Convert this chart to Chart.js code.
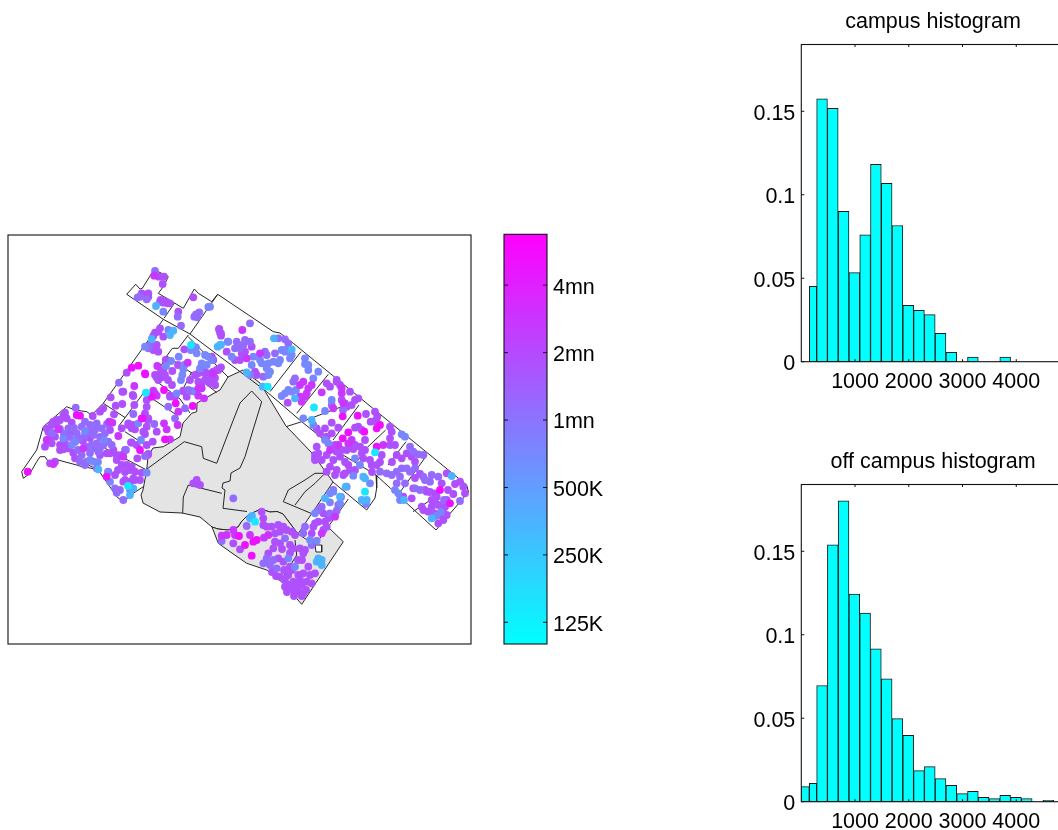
<!DOCTYPE html>
<html>
<head>
<meta charset="utf-8">
<script src="https://cdn.jsdelivr.net/npm/chart.js@4/dist/chart.umd.js"></script>
<style>
html,body{margin:0;padding:0;background:#fff;overflow:hidden;width:1058px;height:830px}
canvas{position:absolute;display:block}
</style>
</head>
<body>
<canvas id="map" style="left:0;top:225px" width="480" height="430"></canvas>
<canvas id="bar" style="left:490px;top:225px" width="130" height="430"></canvas>
<canvas id="h1" style="left:740px;top:0" width="386" height="390"></canvas>
<canvas id="h2" style="left:740px;top:440px" width="386" height="390"></canvas>
<script>
// ---------- histogram data ----------
const binCentres = [386,586,787,987,1188,1388,1589,1789,1990,2190,2391,2591,2792,2992,3193,3393,3594,3794,3995,4195,4396,4596,4797];
const campusNarrowX = [218];
const campusNarrowY = [0.0452];
const campusY = [0.1574,0.1518,0.09,0.0534,0.076,0.1182,0.1068,0.0816,0.0338,0.0308,0.0282,0.017,0.0056,0,0.0028,0,0,0.0028,0,0,0,0,0];
const offNarrowX = [75,218];
const offNarrowY = [0.009,0.011];
const offY = [0.0696,0.1538,0.1802,0.1244,0.113,0.0916,0.0736,0.0498,0.0398,0.0186,0.021,0.0138,0.0098,0.0048,0.0062,0.0026,0.0018,0.0038,0.0026,0.0018,0,0.0008,0];
const histXTicks = [1000,2000,3000,4000];
const histYTicks = [0,0.05,0.1,0.15];
const histYLabels = ['0','0.05','0.1','0.15'];

// ---------- colour bar ----------
const barRange = [100000,6750000];
const barTicks = [125000,250000,500000,1000000,2000000,4000000];
const barLabels = ['125K','250K','500K','1mn','2mn','4mn'];

// ---------- map: dots by price band ----------
const bandValues = {v150k:150000,v350k:350000,v650k:720000,v1mn:1150000,v15mn:1800000,v25mn:2800000,v6mn:5000000};
const v150k = [[191,345],[146,392.7],[267.7,386.7],[314,407.5],[375,452.3],[365,491.7],[255,521.7],[128,486]];
const v350k = [[156,306],[221,344.7],[217.7,346.7],[151.7,339],[173.3,330.7],[170,335],[98.3,469.3],[133.3,488.3],[246.7,372.3],[274,338.3],[262.7,386.7],[295,398.3],[311.7,420],[451.7,476],[404,500],[431.7,518.3],[345.7,486.7],[365,478.3],[363.3,476.7],[361.7,500],[366.7,500],[325,498.3],[250,518.3],[318.3,558.3],[321.7,560],[316.7,561.7],[321.7,565],[291.7,349.3],[130,495],[340,496.7],[220,345],[252,516]];
const v650k = [[163.3,311.7],[208.3,307],[168.3,330],[145,346.7],[190.7,350],[196,347.3],[178.7,356.7],[171,361],[166,366],[184.3,365],[183.3,369.3],[182.3,375],[181,380],[196.7,353.3],[205,355],[208.3,356.7],[211.7,360],[201.7,363.3],[206.7,365],[200,368.3],[195,391.7],[176.7,393.3],[210,306.7],[228.3,341.7],[231.7,356.7],[253.3,356.7],[260,360],[261.7,363.3],[268.3,363.3],[273.3,361.7],[280,360],[278.3,363.3],[281.7,350],[285,351.7],[291.7,355],[290,358.3],[251.7,365],[266.7,368.3],[270,371.7],[268.3,375],[250,375],[305,358.3],[308.3,365],[308.3,370],[305,364],[318.3,371.7],[291.7,391.7],[288.3,390],[285,393.3],[281.7,396],[313.3,378.3],[296,390],[325,411],[331.7,400],[303.3,418.3],[313.3,425],[325,440],[328.3,443.3],[355,458.3],[360,465],[395,490],[398.3,493.3],[401.7,434.3],[405,436.7],[353.3,475.7],[370,483.3],[366,504],[333.3,491.7],[330,493.3],[330,502.3],[340,503.3],[346.7,486.7],[315,513.3],[310,540],[316.7,540.7],[63.3,438.3],[71.7,445],[90,460],[93.3,461.7],[141,440],[138.3,423.3],[146.7,472.7],[110,481.7],[130,490],[288.3,558.3],[295,566.7],[285,350],[436,516],[441,512],[400,500],[85,431],[104,440],[75,442],[98,462],[108,472]];
const v1mn = [[155,271],[177.7,316.7],[181,325.7],[199.3,312.3],[196,314.3],[197.3,317.3],[194.3,316.7],[227.7,341.7],[137.7,297.3],[140,296.7],[146.7,299.3],[148.3,348.3],[150,345],[188.3,390],[119,382.7],[75.7,407.7],[68.3,428.3],[85,421.7],[90,425],[95,430],[81.7,426.7],[88.3,431.7],[96.7,423.3],[101.7,428.3],[105,433.3],[76.7,433.3],[76.7,440],[80,438.3],[85,435],[81.7,455],[86.7,461.7],[80,461.7],[85,465],[96.7,468.3],[93.3,435],[96.7,443.3],[95,448.3],[91.7,445],[100,448.3],[98.3,451.7],[103.3,445],[108.3,441.7],[111.7,445],[145,456],[133.3,414],[168.3,406.7],[175,418.3],[154.3,424],[185,408.3],[191.7,391],[250,323.3],[236.7,341.7],[238.3,345],[245,340],[250,341.7],[243.3,345],[240,348.3],[235,348.3],[278.3,338.3],[285,339.3],[288.3,343.3],[275,353.3],[265,351.7],[266.7,355],[263.3,376.7],[295,378.3],[293.3,381.7],[331.7,405],[410,446.7],[413.3,451.7],[418.3,454.3],[423.3,455],[380,471.7],[386.7,473.3],[391.7,475],[396.7,471.7],[400,476.7],[405,483.3],[396.7,483.3],[410,471.7],[415,468.3],[406.7,468.3],[401.7,468.3],[415,488.3],[420,490],[425,480],[430,481.7],[431.7,475],[423.3,476.7],[438.3,476.7],[460,501],[333.3,490],[338.3,505],[335,515],[336.7,510.7],[330,513.3],[321.7,506.7],[318.3,510],[285,538.3],[233.3,498.3],[221.7,541],[123.3,500],[115,488.3],[120,490],[116.7,492.7],[270,565],[276.7,568.3],[263.3,563.3],[266.7,558.3],[273.3,560],[303.3,533.3],[311.7,545],[305,526.7],[343,410],[246.7,526],[52,433],[60,429],[64,434],[70,437],[74,428],[100,437],[107,424],[87,447],[90,453],[78,450],[126,450],[444,500]];
const v15mn = [[159,276.7],[164,276.7],[162.7,284],[141.7,293.3],[145,295],[148.3,293.3],[148.3,296.7],[160.7,300],[163.3,302.7],[167.7,303.3],[170,303.3],[166,301.7],[160,301.7],[178.3,311.7],[193.3,297.3],[219.3,329],[221,333.3],[160,328.3],[155,332.7],[153.3,336],[158.3,331.7],[163.3,336.7],[156.7,345],[153.3,350],[158.3,351.7],[184.3,349.3],[165.7,360],[172.3,371],[163.3,370],[160,373.3],[156.7,376.7],[161.7,377.3],[158.3,380],[165,375],[155,375],[195,375],[198.3,373.3],[205,373.3],[210,373.3],[218.3,370],[221,367.3],[198.3,381.7],[201.7,383.3],[210,383.3],[215,385],[205,380],[183.3,390.7],[170,396.7],[126.7,372.7],[123.3,391.7],[110.7,397.3],[132.7,395],[150,396.7],[65,412.7],[63.3,416],[60,420],[56.7,420],[53.3,421.7],[51.7,425],[46.7,428.3],[48.3,431.7],[56.7,423.3],[92.7,416],[103.3,408.3],[100,411.7],[114,414.3],[71.7,422.7],[66.7,418.3],[110,430],[50,438.3],[45,446.7],[51.7,443.3],[55,436.7],[65,443.3],[68.3,448.3],[60,450],[63.3,449.3],[73.3,452.7],[75,458.3],[113.3,450],[106.7,453.3],[110,453.3],[116.7,455],[121.7,455],[131.7,442.7],[146.7,445],[136.7,445],[137.3,458.3],[147.7,455],[116.7,460],[125,450],[121.7,465],[126.7,465],[131.7,466.7],[130,470],[135,471.7],[125,480],[123.3,481.7],[130,481.7],[133.3,478.3],[140,480],[141.7,472.7],[108.3,471.7],[115,475],[50,463.3],[55,461.7],[122.3,391.7],[115.7,405.7],[122.3,404],[133.3,396],[134.3,405],[128.3,423.3],[121.7,428.3],[131.7,428.3],[135,429.3],[146.7,406.7],[146.7,400],[145,413.3],[148.3,420],[170,395.7],[175,396.7],[183.3,391],[186.7,396.7],[148.3,418.3],[156.7,431.7],[146.7,426.7],[143.3,431.7],[145,434],[152.7,441.7],[131,442.3],[148.3,454],[133.3,425],[128.3,425],[193.3,483.3],[196.7,480],[200,485],[219,329.3],[220,332.7],[221,335.7],[226.7,351.7],[251.7,346.7],[245,351.7],[241.7,353.3],[235,360],[240,360],[255,371.7],[256.7,375],[213.3,371.7],[216.7,370],[213.3,360],[211.7,356.7],[210,380],[215,385],[287.7,402.7],[330,386.7],[326.7,383.3],[336.7,380],[341.7,400],[345,403.3],[346.7,406.7],[351.7,405],[355,400],[358.3,398.3],[350,391.7],[340,385],[336.7,381.7],[366,414],[375,411.7],[377.3,416.7],[376,420],[377.3,423.3],[370.7,421.7],[331.7,422.7],[338.3,427.7],[358.3,426.7],[361.7,430],[355,427.7],[316.7,428.3],[325,428.3],[320,433.3],[331.7,433.3],[326.7,436.7],[335,445],[316.7,446.7],[315,455],[318.3,453.3],[315,460],[321.7,460],[326.7,455],[336.7,451.7],[341.7,450],[346.7,450],[355,445],[360,446.7],[353.3,449],[361.7,453.3],[365,450],[363.3,458.3],[370,460],[376.7,465],[371.7,465],[381.7,455],[390,438.3],[391.7,431.7],[390,426.7],[390,445],[395,445],[396.7,455],[401.7,458.3],[406.7,453.3],[411.7,456.7],[415,461.7],[411.7,498.3],[403.3,496.7],[446.7,473.3],[441.7,483.3],[435,493.3],[436.7,496.7],[431.7,500],[426.7,491.7],[413.3,488.3],[460,481.7],[463.3,486.7],[465,493.3],[453.3,494],[446.7,500],[445,506.7],[443.3,508.3],[438.3,505],[435,501.7],[431.7,506.7],[428.3,511.7],[423.3,510],[421.7,506.7],[438.3,523.3],[443.3,520],[440,515],[435,513.3],[446.7,515],[348.3,465],[350,470],[345,473.3],[336.7,470],[335,475],[330,466.7],[326.7,471.7],[343.3,475],[340,456.7],[333.3,460],[315,458.3],[341,497],[323.3,513.3],[328.3,518.3],[325,521.7],[315,523.3],[318.3,521.7],[313.3,526.7],[323.3,530],[326.7,526.7],[311.7,533.3],[261.7,511.7],[263.3,518.3],[263.3,525],[266.7,526.7],[233.3,543.3],[240,549.3],[271.7,526.7],[278.3,525],[283.3,526.7],[286.7,530],[275,533.3],[280,531.7],[291.7,531.7],[295,535],[275,541.7],[280,543.3],[290,545],[293.3,548.3],[273.3,548.3],[268.3,553.3],[278.3,558.3],[283.3,561.7],[290,566.7],[280,576.7],[285,580],[288.3,575],[298.3,575],[303.3,573.3],[293.3,581.7],[290,585],[285,586.7],[296.7,586.7],[301.7,585],[306.7,581.7],[311.7,583.3],[315,573.3],[308.3,566.7],[303.3,593.3],[298.3,591.7],[295,591.7],[301.7,596],[291.7,588.3],[300,548.3],[305,550],[303.3,553.3],[282,549],[290,553],[298,560],[276,576],[284,570],[292,570],[300,580],[306,590],[294,596],[287,592],[272,572],[302,560],[310,575],[415,478],[425,490],[448,490],[455,484],[430,492],[420,474],[345,462],[355,470],[380,462],[392,462],[372,472],[365,440],[70,432],[60,445],[83,441],[90,438],[100,455],[118,470],[125,472],[135,480],[205,372],[215,378],[190,380],[178,365],[168,380],[172,385]];
const v25mn = [[154.3,275.7],[242.3,330],[187.7,362.7],[157.3,366],[213.3,373.3],[198.3,388.3],[201.7,388.3],[134.3,386],[153.3,390.7],[155,393.3],[58.3,429.3],[112.3,422.7],[109.3,421.7],[118.3,436],[46.7,440],[83.3,448.3],[123.3,456.7],[53.3,464],[156.7,395.7],[178.3,411.7],[177.7,425],[198.3,395.7],[204,398.3],[164,423.3],[166.7,429.3],[170,439.3],[246.7,358.3],[260,353.3],[300,385],[303.3,381.7],[308.3,388.3],[311.7,385],[306.7,393.3],[305,396.7],[300,396.7],[301.7,401.7],[321.7,392.3],[333.3,408.3],[341.7,388.3],[343.3,403.3],[341.7,393.3],[351.7,440],[348.3,443.3],[338.3,445],[330,450],[383.3,445],[335,516.7],[321.7,533.3],[226.7,535],[233.3,530],[235,535],[250,535],[264,537.7],[268.3,535],[221.7,535.7]];
const v6mn = [[27.7,471.7],[80,415.7],[76.7,415],[131.7,367.7],[138.3,365.7],[145.3,374.3],[145,373.3],[164,390],[141.7,418.3],[140,450],[106.7,476.7],[151.7,396.7],[175.7,403.3],[192.7,406],[142.7,418.3],[165,439.3],[342.7,416.3],[357.7,415.7],[380,425],[376.7,428.3],[348.3,432.3],[364.3,431.7],[342.7,438.3],[376.7,446.7],[450,503.3],[440,490],[239,536],[253.3,541.7],[256.7,540],[245,545],[251.7,555.7]];

// ---------- map: outlines (in map units) ----------
const campusMain = [[243,370],[260,383],[286,426],[312,453],[333,482],[298,534],[283,514],[277,511.5],[270,512],[261,509],[248,515],[242,521],[238,527],[228,530],[218,529],[212,527],[200,517],[182,513],[160,512],[143,503],[141,495],[143,490],[146.7,470],[148,456.7],[153,448],[163.3,446.7],[180,436.7],[183,423],[191.7,413.3],[196.7,411.7],[197,403],[216.7,391.7],[220,390],[228,377],[243,370]];
const campusSouth = [[212,527],[218,529],[228,530],[238,527],[242,521],[248,515],[261,509],[270,512],[277,511.5],[283,514],[298,534],[315,545],[328,527],[343.3,541.7],[301.7,604.3],[283.3,583.3],[266.7,570],[246.7,563.3],[230,551.7],[218.3,543.3],[212,527]];
const smallWhiteBox = [[315,545],[321.7,545],[321.7,552],[316,552],[315,545]];
const outerNorth = [[21.7,471.7],[36.7,450],[43.3,426.7],[66.7,406.7],[75,410],[86.7,411.7],[91.7,415],[103.3,403.3],[163.3,319.3],[126.7,294.3],[135.7,284.3],[140,289],[142.3,288.3],[151.7,273.3],[155,270],[168.3,276.7],[163.3,286.7],[158.3,293.3],[183.3,308.3],[194.3,289],[198.3,293.3],[211.7,301.7],[217.7,294.3],[273.3,331.7],[280,333],[293.3,343.3],[466.7,485],[468.5,492],[436,530],[376,475],[343,455],[301.7,421.7],[266.7,391.7],[190,334],[163.3,319.3]];
const outerSouthWest = [[21.7,471.7],[23.3,478.3],[30,473.3],[36.7,461.7],[40,456.7],[45,456.7],[48.3,461.7],[58,460],[76.7,465],[81.7,466.7],[88.3,465],[98.3,470],[116.7,496.7],[123.3,501.7],[133.3,493.3],[143.3,486.7]];
const sepA = [[301,351.7],[270,391.7]];
const sepB = [[328.3,374.3],[296.7,413.3]];
const sepC = [[359,405],[333,440]];
const sepD = [[385.7,430],[368,446.7],[358,460]];
const sepE = [[406,441.7],[388,465]];
const sepF = [[427,455],[396.7,496.7]];
const sepG = [[428,501.7],[413,511.7]];
const wedge = [[286,426.7],[301.7,421.7],[341.7,406.7]];
const eastBlock = [[376,475],[376.7,488],[375,498],[366.7,510],[333,482]];
const stripRight = [[348.3,499],[328,527]];
const sepNorthA = [[174.3,303.3],[164,318.3]];
const sepNorthB = [[217.7,294.3],[190,334]];
const innerA = [[188.3,335],[178.3,348.3],[172.3,348.3],[166.7,356],[191.7,373],[216.7,392.5]];
const innerB = [[166.7,356],[153.3,379],[180,399],[190,413]];
const innerC = [[191.7,372],[184,387]];
const innerD = [[151.7,398.3],[176.7,415]];
const innerE = [[188,336.5],[228,377]];
const westA = [[103.3,403.3],[125,417.5]];
const westB = [[118.3,426.7],[143.3,393.3]];
const westC = [[125,431.7],[150,448]];
const westD = [[105,448.3],[118,455],[146.7,470]];
const westE = [[81.7,466],[98.3,470]];
const campusLineA = [[251.7,391],[261.7,401.7],[253,430],[245,456.7],[240,468],[231,473],[230,481],[223,483],[222,488],[225,490],[223,508.3],[247,511.5]];
const campusLineB = [[251.7,391],[240,403],[233.3,420],[216.7,463.3],[203.3,458.3],[201.7,446.7],[184.3,441.7],[143.3,471.7]];
const campusLineC = [[221.7,493.3],[188.3,485],[183.3,497],[182.7,513]];
const islandA = [[315,515],[283.3,501.7],[288.3,490],[305,480],[315,473.3],[325,473.3],[315,483.3],[305,491.7],[295,505]];
const campusLineD = [[295,540],[296.7,555],[283.3,576.7]];

// ---------- helpers ----------
const FONT = {family:'"Liberation Sans", Arial, sans-serif', size:21.5};
Chart.defaults.animation = false;
Chart.defaults.responsive = false;
Chart.defaults.devicePixelRatio = 1;
Chart.defaults.color = '#000';
Chart.defaults.plugins.legend.display = false;
Chart.defaults.plugins.tooltip.enabled = false;

function pin(size, isWidth, rightSpace){
  return function(scale){
    if(isWidth) scale.width = size; else scale.height = size;
    scale.paddingLeft = scale.paddingTop = scale.paddingBottom = 0;
    scale.paddingRight = rightSpace || 0;
  };
}
function setTicks(list){ return s => { s.ticks = list.map(v => ({value:v})); }; }

function frame(xLen, yLen){
  return {
    id:'frame',
    afterDatasetsDraw(chart){
      const {ctx, chartArea:a, scales} = chart;
      ctx.save();
      ctx.strokeStyle = '#111';
      ctx.lineWidth = 1.1;
      ctx.strokeRect(a.left, a.top, a.width, a.height);
      ctx.lineWidth = 1;
      ctx.beginPath();
      if(yLen && scales.y){
        scales.y.ticks.forEach(t => {
          const p = scales.y.getPixelForValue(t.value);
          ctx.moveTo(a.left, p); ctx.lineTo(a.left + yLen, p);
          ctx.moveTo(a.right, p); ctx.lineTo(a.right - yLen, p);
        });
      }
      if(xLen && scales.x && scales.x.type === 'linear'){
        scales.x.ticks.forEach(t => {
          const p = scales.x.getPixelForValue(t.value);
          ctx.moveTo(p, a.top); ctx.lineTo(p, a.top + xLen);
          ctx.moveTo(p, a.bottom); ctx.lineTo(p, a.bottom - xLen);
        });
      }
      ctx.stroke();
      ctx.restore();
    }
  };
}

function pairs(xs, ys){ return xs.map((x,i) => ({x, y:ys[i]})); }

function barSet(xs, ys, thickness){
  return {
    data: pairs(xs, ys).filter(p => p.y > 0),
    backgroundColor:'#00ffff', borderColor:'#1a1a1a', borderWidth:1,
    borderSkipped:false, grouped:false, barThickness:thickness
  };
}

function histogram(id, title, sets){
  new Chart(document.getElementById(id), {
    type:'bar',
    data:{datasets:sets},
    options:{
      layout:{padding:0},
      plugins:{title:{display:true, text:title, color:'#000', font:{...FONT, weight:'normal'}, padding:{top:8.7, bottom:10}}},
      scales:{
        x:{type:'linear', offset:false, min:0, max:5000, grid:{display:false, drawTicks:false, tickLength:0}, border:{display:false},
           afterBuildTicks:setTicks(histXTicks), afterFit:pin(28.3,false,56),
           ticks:{font:FONT, color:'#000', padding:7, autoSkip:false, maxRotation:0, minRotation:0, callback:v => String(v)}},
        y:{type:'linear', min:0, max:0.19, grid:{display:false, drawTicks:false, tickLength:0}, border:{display:false},
           afterBuildTicks:setTicks(histYTicks), afterFit:pin(61.3,true),
           ticks:{font:FONT, color:'#000', padding:6, labelOffset:2.5, autoSkip:false, callback:v => histYLabels[histYTicks.indexOf(v)]}}
      }
    },
    plugins:[frame(2.5,3)]
  });
}
histogram('h1','campus histogram',[barSet(binCentres,campusY,10.77),barSet(campusNarrowX,campusNarrowY,7.4)]);
histogram('h2','off campus histogram',[barSet(binCentres,offY,10.77),barSet([offNarrowX[0]],[offNarrowY[0]],8),barSet([offNarrowX[1]],[offNarrowY[1]],7.4)]);

// colour bar
new Chart(document.getElementById('bar'), {
  type:'bar',
  data:{labels:['price'], datasets:[{
    data:[barRange],
    backgroundColor(c){
      const area = c.chart.chartArea;
      if(!area) return '#00ffff';
      const g = c.chart.ctx.createLinearGradient(0, area.bottom, 0, area.top);
      g.addColorStop(0,'rgb(0,255,255)');
      g.addColorStop(1,'rgb(255,0,255)');
      return g;
    },
    borderWidth:0, barPercentage:1, categoryPercentage:1
  }]},
  options:{
    layout:{padding:{left:14, right:0, top:9.3, bottom:11}},
    scales:{
      x:{display:false},
      y:{type:'logarithmic', position:'right', min:barRange[0], max:barRange[1], grid:{display:false, drawTicks:false, tickLength:0}, border:{display:false},
         afterBuildTicks:setTicks(barTicks), afterFit:pin(73,true),
         ticks:{font:FONT, color:'#000', padding:6, labelOffset:2.5, autoSkip:false, callback:v => barLabels[barTicks.indexOf(v)]}}
    }
  },
  plugins:[frame(0,4)]
});

// map
function priceColour(v){
  const t = Math.log(v/barRange[0]) / Math.log(barRange[1]/barRange[0]);
  return `rgb(${Math.round(255*t)},${Math.round(255*(1-t))},255)`;
}
function outline(ring, fillColour){
  return {
    type:'scatter', showLine:true, pointRadius:0, borderColor:'#262626', borderWidth:1,
    data:ring.map(p => ({x:p[0], y:p[1]})),
    fill: fillColour ? 'shape' : false,
    backgroundColor: fillColour || 'transparent'
  };
}
function dots(list, value){
  return {type:'scatter', pointRadius:3.9, pointBorderWidth:0, showLine:false,
    pointBackgroundColor:priceColour(value), data:list.map(p => ({x:p[0], y:p[1]}))};
}
const lines = [outerNorth,outerSouthWest,sepA,sepB,sepC,sepD,sepE,sepF,sepG,wedge,eastBlock,stripRight,sepNorthA,sepNorthB,innerA,innerB,innerC,innerD,innerE,westA,westB,westC,westD,westE,campusLineA,campusLineB,campusLineC,islandA,campusLineD];
// Chart.js paints the first dataset last, so the marks on top are listed first.
new Chart(document.getElementById('map'), {
  type:'scatter',
  data:{datasets:[
    dots(v150k,bandValues.v150k),
    dots(v6mn,bandValues.v6mn),
    dots(v350k,bandValues.v350k),
    dots(v25mn,bandValues.v25mn),
    dots(v650k,bandValues.v650k),
    dots(v1mn,bandValues.v1mn),
    dots(v15mn,bandValues.v15mn),
    ...lines.map(r => outline(r)),
    outline(smallWhiteBox,'#ffffff'),
    outline(campusSouth,'#e4e4e4'),
    outline(campusMain,'#e4e4e4')
  ]},
  options:{
    layout:{padding:{left:8, right:9, top:10, bottom:11}},
    scales:{
      x:{type:'linear', display:false, min:8, max:471},
      y:{type:'linear', display:false, min:235, max:644, reverse:true}
    }
  },
  plugins:[frame(0,0)]
});
</script>
</body>
</html>
